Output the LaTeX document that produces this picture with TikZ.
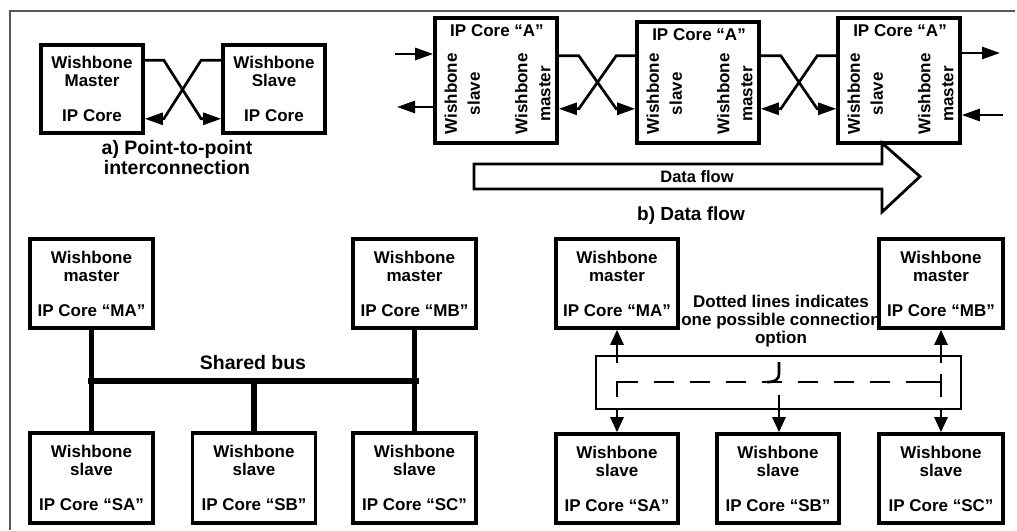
\documentclass[tikz,border=0pt]{standalone}
\usepackage{fontspec}
\setmainfont{Liberation Sans}
\usetikzlibrary{arrows.meta,calc}
\newcommand\wbfs[2]{\fontsize{#1}{#2}\selectfont\bfseries}
\begin{document}
\begin{tikzpicture}[x=1pt,y=-1pt,
  core/.style={draw,line width=3.6pt,fill=white,inner sep=0pt,align=center,
    font=\wbfs{17}{18}},
  wire/.style={line width=2.7pt},
  tip/.style={-{Triangle[length=18pt,width=12pt]}},
  vtip/.style={-{Triangle[length=15pt,width=13pt]}},
  bus/.style={line width=5.5pt},
  caption/.style={font=\wbfs{19.5}{20},align=center},
  side/.style={rotate=90,align=center,font=\wbfs{17}{23},inner sep=0pt}]
\useasboundingbox (0,0) rectangle (1017,530);

% outer frame
\draw[black!65,line width=1.2pt] (10,530) -- (10,11) -- (1015,11);

% ---------- a) point-to-point ----------
\node[core,minimum width=102pt,minimum height=88pt] (pm) at (92,89)
  {Wishbone\\Master\\[17pt]IP Core};
\node[core,minimum width=102pt,minimum height=88pt] (ps) at (274,89)
  {Wishbone\\Slave\\[17pt]IP Core};
\draw[wire,tip] ($(pm.north east)+(0,17)$) -- ++(19,0)
  -- ($(ps.south west)+(-20,-16)$) -- ($(ps.south west)+(0,-16)$);
\draw[wire,tip] ($(ps.north west)+(0,17)$) -- ++(-20,0)
  -- ($(pm.south east)+(19,-16)$) -- ($(pm.south east)+(0,-16)$);
\node[caption] (capa) at (177,158) {a) Point-to-point\\interconnection};

% ---------- b) data flow ----------
\node[core,minimum width=122pt,minimum height=125pt] (A1) at (496,80.5) {};
\node[core,minimum width=122pt,minimum height=121pt] (A2) at (698,82.5) {};
\node[core,minimum width=122pt,minimum height=125pt] (A3) at (899,80.5) {};
\foreach \n in {A1,A2,A3}{
  \node[font=\wbfs{17}{18}] (\n t) at ($(\n.north)+(1,14)$) {IP Core “A”};
  \node[side] (\n s) at ($(\n.south west)+(29,-51)$) {Wishbone\\slave};
  \node[side] (\n m) at ($(\n.south east)+(-26,-51)$) {Wishbone\\master};
}
% crossed links between neighbouring cores
\foreach \a/\b in {A1/A2,A2/A3}{
  \draw[wire,tip] ($(\a.south east)+(0,-89)$) -- ++(20,0)
    -- ($(\b.south west)+(-19,-36)$) -- ($(\b.south west)+(0,-36)$);
  \draw[wire,tip] ($(\b.south west)+(0,-89)$) -- ++(-19,0)
    -- ($(\a.south east)+(20,-36)$) -- ($(\a.south east)+(0,-36)$);
}
\coordinate (inA) at (395,54);
\coordinate (outA) at (397,107);
\coordinate (outC) at (1000,53);
\coordinate (inC) at (1003,115);
\draw[wire,tip] (inA) -- (inA -| A1.west);
\draw[wire,tip] (outA -| A1.west) -- (outA);
\draw[wire,tip] (outC -| A3.east) -- (outC);
\draw[wire,tip] (inC) -- (inC -| A3.east);

% big data-flow arrow
\draw[line width=2.8pt,fill=white,line join=miter]
  (474,164) -- (882,164) -- (882,143) -- (920,176.5) -- (882,212)
  -- (882,189) -- (474,189) -- cycle;
\node[font=\wbfs{16.5}{18}] (df) at (697,177) {Data flow};
\node[font=\wbfs{19}{20}] (capb) at (691,216) {b) Data flow};

% ---------- shared bus ----------
\node[core,minimum width=123pt,minimum height=89pt] (MA) at (91.5,283.5)
  {Wishbone\\master\\[17pt]IP Core “MA”};
\node[core,minimum width=123pt,minimum height=89pt] (MB) at (414.5,283.5)
  {Wishbone\\master\\[17pt]IP Core “MB”};
\node[core,minimum width=123pt,minimum height=90pt] (SA) at (91.5,478)
  {Wishbone\\slave\\[17pt]IP Core “SA”};
\node[core,minimum width=123pt,minimum height=90pt] (SB) at (254,478)
  {Wishbone\\slave\\[17pt]IP Core “SB”};
\node[core,minimum width=123pt,minimum height=90pt] (SC) at (414.5,478)
  {Wishbone\\slave\\[17pt]IP Core “SC”};
\coordinate (busy) at (0,381);
\draw[bus] ($(MA.south |- busy)+(-4,0)$) -- ($(MB.south |- busy)+(4,0)$);
\draw[bus] (MA.south) -- (SA.north);
\draw[bus] (MB.south) -- (SC.north);
\draw[bus] (SB.north |- busy) -- (SB.north);
\node[font=\wbfs{19.5}{20}] (sb) at (253,363) {Shared bus};

% ---------- switched interconnection ----------
\node[align=center,font=\wbfs{17}{18}] (note) at (781,321)
  {Dotted lines indicates\\one possible connection\\option};
\node[core,minimum width=122pt,minimum height=89pt] (MA2) at (617,283.5)
  {Wishbone\\master\\[17pt]IP Core “MA”};
\node[core,minimum width=124pt,minimum height=89pt] (MB2) at (941,283.5)
  {Wishbone\\master\\[17pt]IP Core “MB”};
\node[core,minimum width=122pt,minimum height=89pt] (SA2) at (617,478.5)
  {Wishbone\\slave\\[17pt]IP Core “SA”};
\node[core,minimum width=122pt,minimum height=89pt] (SB2) at (778,478.5)
  {Wishbone\\slave\\[17pt]IP Core “SB”};
\node[core,minimum width=124pt,minimum height=89pt] (SC2) at (941,478.5)
  {Wishbone\\slave\\[17pt]IP Core “SC”};
\node[draw,line width=2.8pt,minimum width=365pt,minimum height=53pt,inner sep=0pt]
  (xbar) at (778.5,382.5) {};
\coordinate (top) at (0,363);
\coordinate (dl) at (0,382);
\draw[wire,vtip] (MA2.south |- top) -- (MA2.south);
\draw[wire,vtip] (MB2.south |- top) -- (MB2.south);
\draw[wire,vtip] (SA2.north |- xbar.south) -- (SA2.north);
\draw[wire,vtip] (SC2.north |- xbar.south) -- (SC2.north);
\draw[wire,vtip] ($(SB2.north |- dl)+(1,13)$) -- ($(SB2.north)+(1,0)$);
% the dashed route through the switch
\draw[wire] ($(SA2.north |- dl)+(0,15)$) -- (SA2.north |- dl) -- ++(21,0);
\draw[wire,dash pattern=on 20pt off 16pt,dash phase=20pt]
  ($(SA2.north |- dl)+(21,0)$) -- ($(SC2.north |- dl)+(-16,0)$);
\draw[wire] ($(SC2.north |- dl)+(-16,0)$) -- (SC2.north |- dl);
\draw[wire] ($(SC2.north |- dl)+(0,-8)$) -- ($(SC2.north |- dl)+(0,15)$);
\draw[wire] ($(SB2.north |- top)+(1,-1)$) -- ($(SB2.north |- dl)+(1,-9)$)
  .. controls ($(SB2.north |- dl)+(1,-2)$) and ($(SB2.north |- dl)+(-3,0)$)
  .. ($(SB2.north |- dl)+(-11,0)$);
\end{tikzpicture}
\end{document}
